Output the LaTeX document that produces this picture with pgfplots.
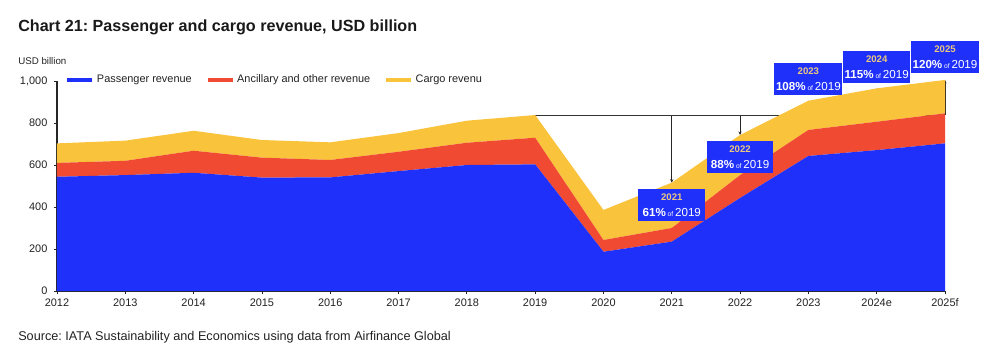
\documentclass[border=0pt]{standalone}
\usepackage{fontspec}
\setmainfont{Liberation Sans}
\usepackage{pgfplots}
\pgfplotsset{compat=1.18}
\usetikzlibrary{arrows.meta}
\definecolor{pblue}{HTML}{1F30FA}
\definecolor{pred}{HTML}{F04A32}
\definecolor{pyel}{HTML}{F9C33C}
\definecolor{ptan}{HTML}{EBC87F}
\definecolor{txt}{HTML}{222222}
\frenchspacing

\pgfplotstableread{
x pax anc cargo
0  544 66  93
1  552 68  96
2  563 105 95
3  540 95  84
4  541 83  84
5  571 92  89
6  600 106 105
7  603 127 108
8  187 56  143
9  235 65  216
10 443 109 191
11 643 124 139
12 671 135 159
13 703 143 159
}\revtable

\newcommand{\yr}[1]{{\fontsize{7.2}{8}\selectfont\bfseries\color{ptan}#1}}
\newcommand{\pc}[1]{{\fontsize{8.7}{9}\selectfont\bfseries #1}{\fontsize{5}{6}\selectfont\ of }{\fontsize{8.7}{9}\selectfont 2019}}

\begin{document}
\begin{tikzpicture}
\path[use as bounding box] (-42.75pt,-45pt) rectangle (707.25pt,218.25pt);
\begin{axis}[
  at={(0pt,0pt)}, anchor=south west,
  scale only axis, width=666pt, height=157.5pt,
  xmin=0, xmax=13, ymin=0, ymax=1000,
  xtick={0,...,13},
  xticklabels={2012,2013,2014,2015,2016,2017,2018,2019,2020,2021,2022,2023,2024e,2025f},
  ytick={0,200,...,1000},
  axis x line*=bottom, axis y line*=left,
  axis line style={line width=0.8pt, color=black!85},
  tick style={line width=0.6pt, color=black!85},
  tick align=outside, major tick length=2.5pt,
  /pgf/number format/.cd, 1000 sep={,}, assume math mode=true, /pgfplots/.cd,
  tick label style={font=\fontsize{8.2}{9}\selectfont, color=txt},
  yticklabel style={xshift=-1.2pt},
  stack plots=y,
  clip=false,
  legend columns=3,
  legend style={draw=none, fill=none, at={(0.0113,1.005)}, anchor=west,
    font=\fontsize{8.2}{9}\selectfont, text=txt,
    /tikz/every even column/.append style={column sep=9.8pt},
    inner sep=0pt},
  legend image code/.code={\fill[#1] (0pt,-1.6pt) rectangle (18.75pt,1.6pt); \path (20.25pt,0pt);},
]
\addplot[fill=pblue, draw=none] table[x=x, y=pax] {\revtable} \closedcycle;
\addlegendentry{Passenger revenue}
\addplot[fill=pred, draw=none] table[x=x, y=anc] {\revtable} \closedcycle;
\addlegendentry{Ancillary and other revenue}
\addplot[fill=pyel, draw=none] table[x=x, y=cargo] {\revtable} \closedcycle;
\addlegendentry{Cargo revenu}

\draw[line width=0.6pt, black!80] (axis cs:7,838) -- (axis cs:13,838);
\draw[line width=0.6pt, black!85, -{Stealth[length=2.6pt,width=2.4pt]}] (axis cs:9,838) -- (axis cs:9,516);
\draw[line width=0.6pt, black!85, -{Stealth[length=2.6pt,width=2.4pt]}] (axis cs:10,838) -- (axis cs:10,743);
\draw[line width=0.6pt, black!85, -{Stealth[length=2.6pt,width=2.4pt]}] (axis cs:11,838) -- (axis cs:11,906);
\draw[line width=0.6pt, black!85, -{Stealth[length=2.6pt,width=2.4pt]}] (axis cs:12,838) -- (axis cs:12,965);
\draw[line width=0.6pt, black!85, -{Stealth[length=2.6pt,width=2.4pt]}] (axis cs:13,838) -- (axis cs:13,1005);
\coordinate (b21) at (axis cs:9,486);
\coordinate (b22) at (axis cs:10,714);
\coordinate (b23) at (axis cs:11,933);
\coordinate (b24) at (axis cs:12,990);
\coordinate (b25) at (axis cs:13,1038);
\end{axis}
\tikzset{abox/.style={fill=pblue, text=white, align=center, inner sep=1.2pt, minimum width=50pt, minimum height=24pt}}
\node[abox, anchor=north] at (b21) {\yr{2021}\\\pc{61\%}};
\node[abox, anchor=north] at (b22) {\yr{2022}\\\pc{88\%}};
\node[abox, anchor=south] at (b23) {\yr{2023}\\\pc{108\%}};
\node[abox, anchor=south] at (b24) {\yr{2024}\\\pc{115\%}};
\node[abox, anchor=south] at (b25) {\yr{2025}\\\pc{120\%}};
\node[anchor=base west, inner sep=0pt, font=\fontsize{12.1}{14}\selectfont\bfseries, text=black!90] at (-29.25pt,194.5pt) {Chart 21: Passenger and cargo revenue, USD billion};
\node[anchor=base west, inner sep=0pt, font=\fontsize{7.3}{8}\selectfont, text=txt] at (-29.25pt,170.25pt) {USD billion};
\node[anchor=base west, inner sep=0pt, font=\fontsize{9.5}{11}\selectfont, text=txt] at (-29.25pt,-37.3pt) {Source: IATA Sustainability and Economics using data from Airfinance Global};
\end{tikzpicture}
\end{document}
